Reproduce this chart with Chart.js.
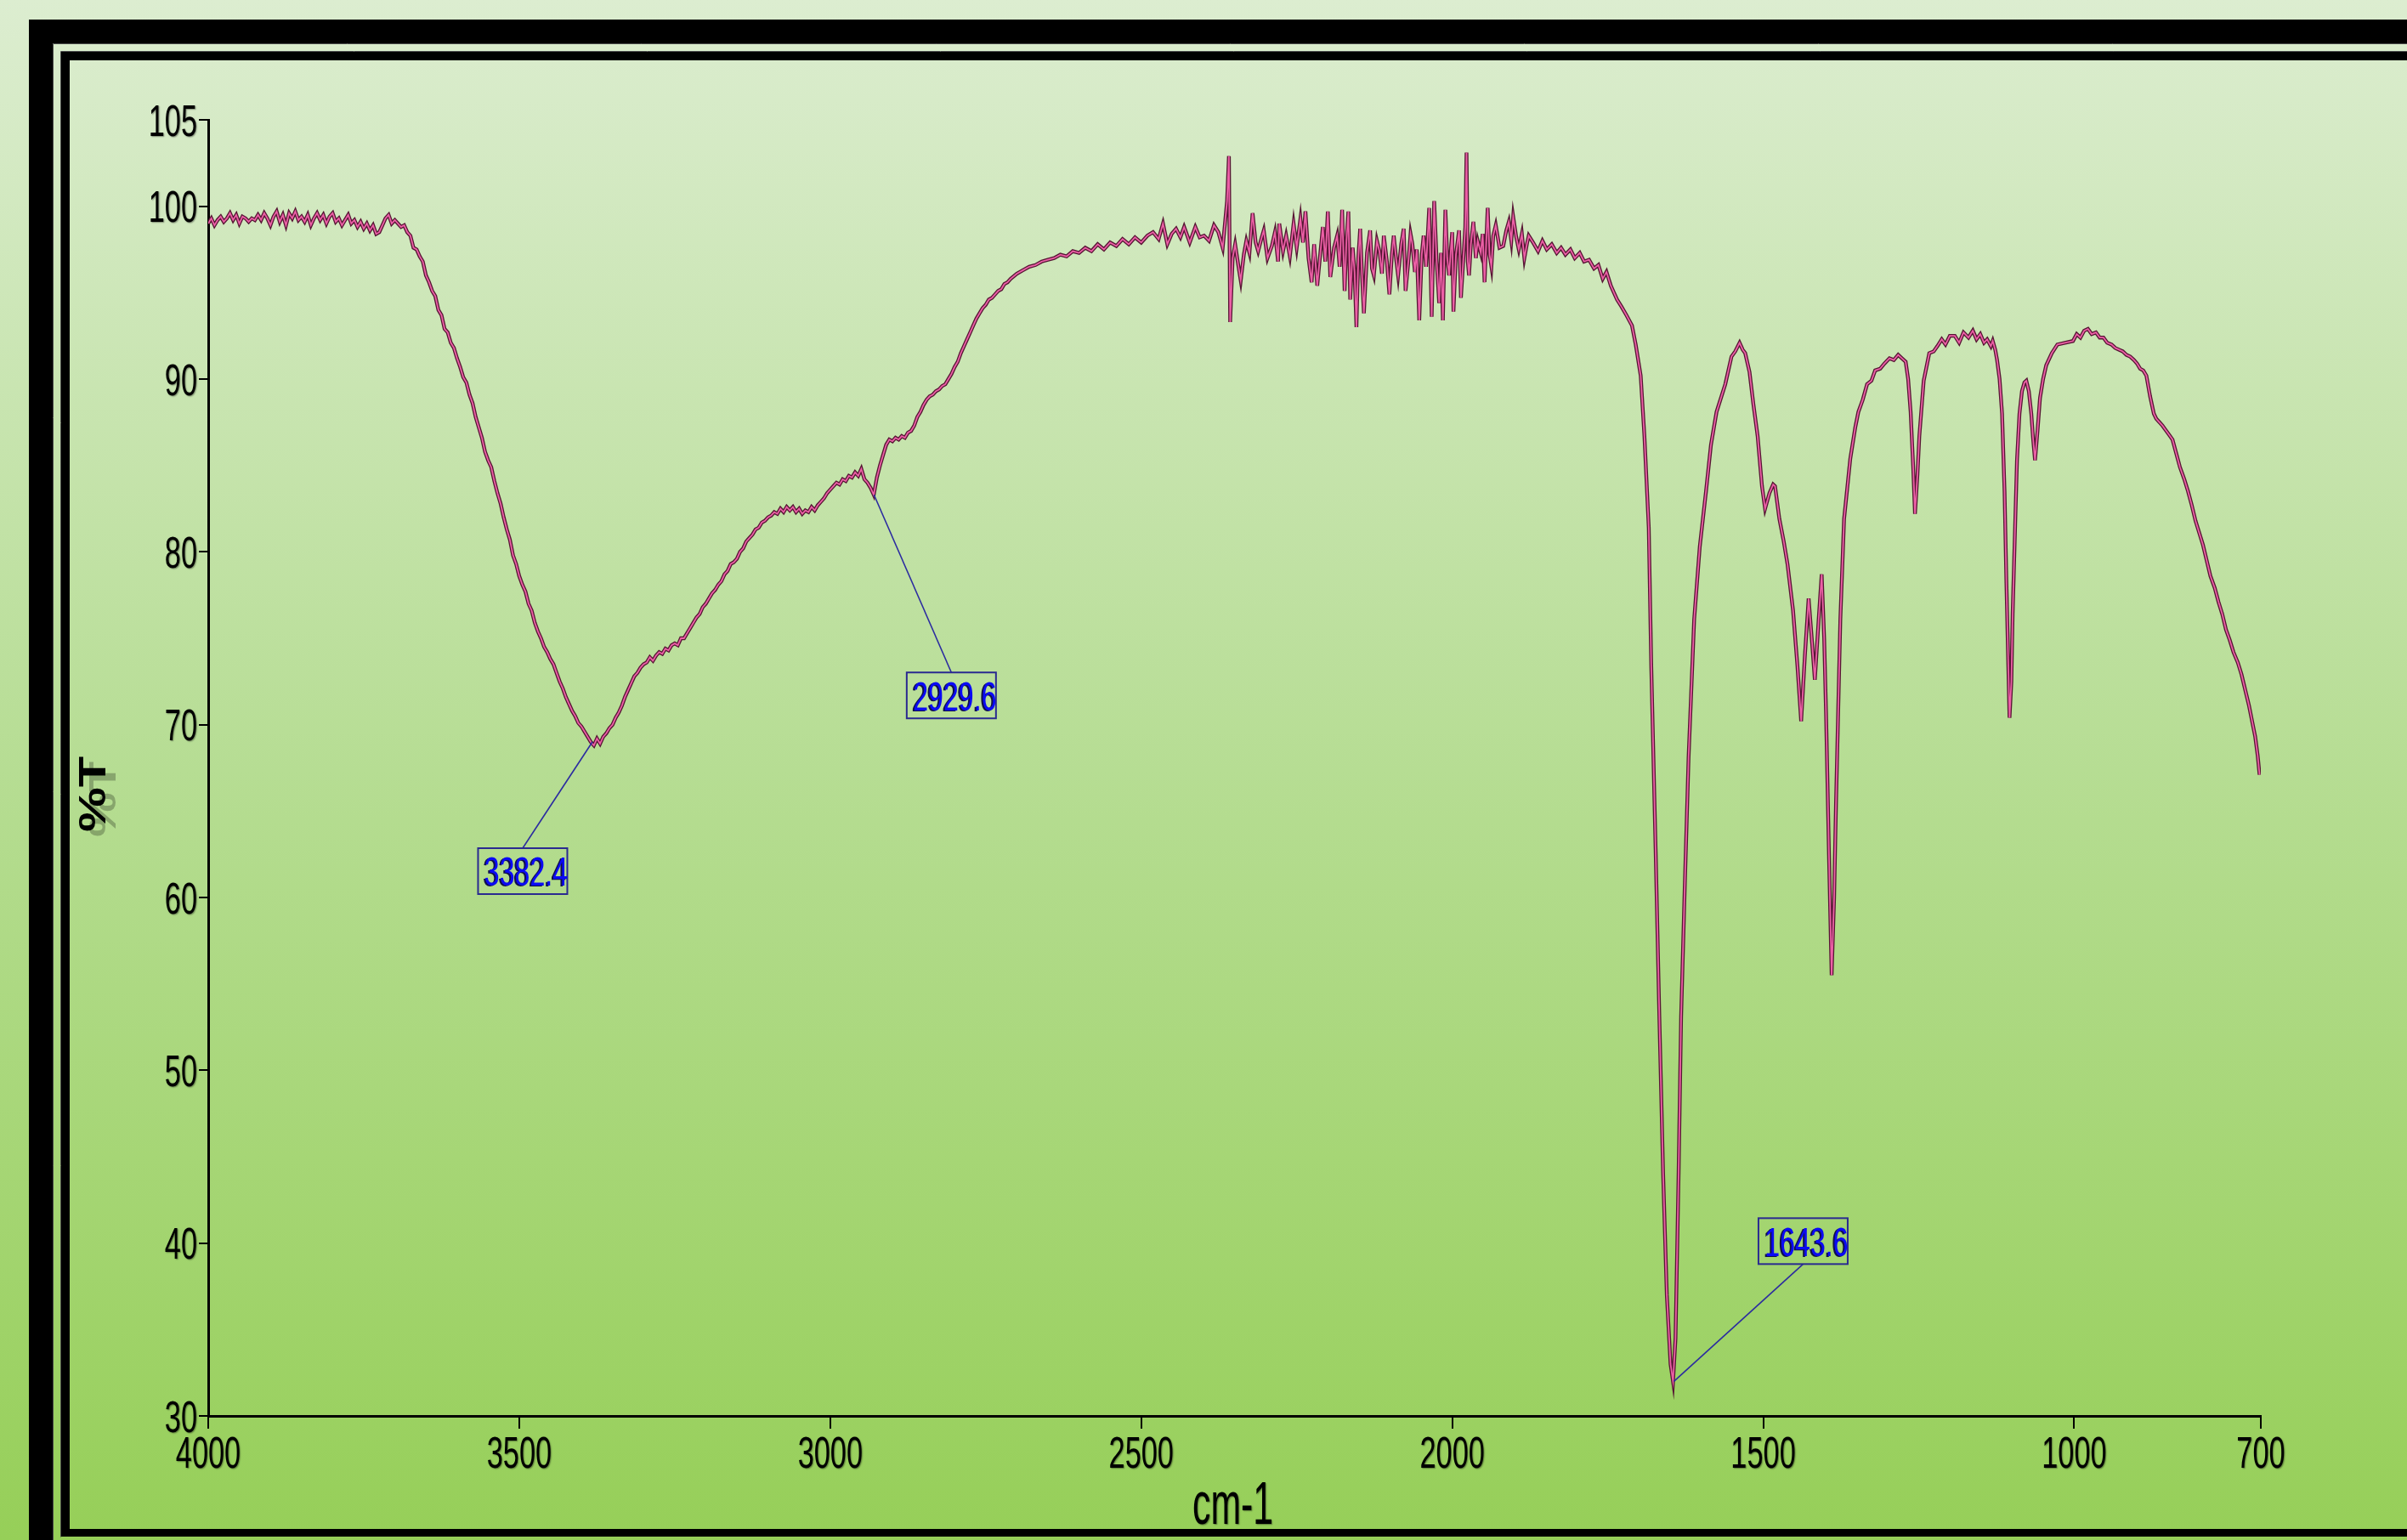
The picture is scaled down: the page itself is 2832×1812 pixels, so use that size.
<!DOCTYPE html>
<html>
<head>
<meta charset="utf-8">
<script src="https://cdn.jsdelivr.net/npm/chart.js@4.4.1/dist/chart.umd.min.js"></script>
<style>
  html, body { margin: 0; padding: 0; background: #c0e0a0; }
  #wrap { width: 2832px; height: 1812px; position: relative; }
  canvas { display: block; }
</style>
</head>
<body>
<div id="wrap"><canvas id="c" width="2832" height="1812"></canvas></div>
<script>
// ---------------- DATA ----------------
const wavenumbers = [
  // 4000 - 3700
  4000,3995,3990,3985,3980,3975,3970,3965,3960,3955,
  3950,3945,3940,3935,3930,3925,3920,3915,3910,3905,
  3900,3895,3890,3885,3880,3875,3870,3865,3860,3855,
  3850,3845,3840,3835,3830,3825,3820,3815,3810,3805,
  3800,3795,3790,3785,3780,3775,3770,3765,3760,3755,
  3750,3745,3740,3735,3730,3725,3720,3715,3710,3705,
  3700,
  // 3695 - 2710
  3695,3690,3685,3680,3675,3670,3665,3660,3655,3650,
  3645,3640,3635,3630,3625,3620,3615,3610,3605,3600,
  3595,3590,3585,3580,3575,3570,3565,3560,3555,3550,
  3545,3540,3535,3530,3525,3520,3515,3510,3505,3500,
  3495,3490,3485,3480,3475,3470,3465,3460,3455,3450,
  3445,3440,3435,3430,3425,3420,3415,3410,3405,3400,
  3395,3390,3385,3380,3375,3370,3365,3360,3355,3350,
  3345,3340,3335,3330,3325,3320,3315,3310,3305,3300,
  3295,3290,3285,3280,3275,3270,3265,3260,3255,3250,
  3245,3240,3235,3230,3225,3220,3215,3210,3205,3200,
  3195,3190,3185,3180,3175,3170,3165,3160,3155,3150,
  3145,3140,3135,3130,3125,3120,3115,3110,3105,3100,
  3095,3090,3085,3080,3075,3070,3065,3060,3055,3050,
  3045,3040,3035,3030,3025,3020,3015,3010,3005,3000,
  2995,2990,2985,2980,2975,2970,2965,2960,2955,2950,
  2945,2940,2935,2930,2925,2920,2915,2910,2905,2900,
  2895,2890,2885,2880,2875,2870,2865,2860,2855,2850,
  2845,2840,2835,2830,2825,2820,2815,2810,2805,2800,
  2795,2790,2785,2780,2775,2770,2765,2760,2755,2750,
  2745,2740,2735,2730,2725,2720,2715,2710,
  // 2700 - 2490
  2700,2690,2680,2670,2660,2650,2640,2630,2620,2610,
  2600,2590,2580,2570,2560,2550,2540,2530,2520,2510,
  2500,2490,
  // noisy region 2481 - 1877
  2481,2472,2465,2458,2451,2444,2437,2431,2422,2413,
  2406,2399,2391,2383,2376,2369,2362,2359,2357,2353,
  2349,2344,2340,2335,2331,2326,2321,2316,2312,2307,
  2303,2297,2290,2285,2280,2278,2272,2267,2261,2255,
  2250,2244,2240,2236,2231,2226,2222,2217,2212,2208,
  2204,2200,2196,2190,2185,2181,2177,2173,2170,2167,
  2164,2160,2157,2154,2151,2148,2145,2142,2137,2132,
  2129,2126,2121,2117,2113,2110,2105,2101,2097,2094,
  2090,2087,2082,2078,2075,2070,2067,2064,2060,2057,
  2053,2049,2046,2042,2037,2033,2029,2025,2021,2018,
  2015,2011,2008,2005,2002,2000,1998,1994,1989,1986,
  1982,1979,1977,1975,1973,1970,1966,1962,1959,1954,
  1951,1948,1943,1940,1937,1934,1930,1924,1918,1913,
  1909,1905,1902,1897,1893,1888,1884,1880,1877,
  // 1870 - 702
  1870,1862,1855,1848,1840,1832,1825,1818,1810,1803,
  1795,1788,1780,1772,1765,1758,1752,1745,1740,1735,
  1728,1720,1711,1705,1697,1691,1684,1680,1673,1667,
  1661,1655,1649,1645,1641,1636,1632,1626,1620,1611,
  1602,1592,1584,1575,1561,1551,1545,1538,1533,1529,
  1522,1516,1509,1502,1497,1490,1484,1481,1474,1467,
  1461,1452,1445,1439,1433,1427,1422,1417,1411,1406,
  1402,1399,1394,1390,1386,1383,1376,1370,1360,1352,
  1347,1340,1333,1326,1320,1312,1305,1297,1290,1283,
  1277,1271,1267,1263,1259,1256,1252,1249,1242,1233,
  1226,1220,1213,1207,1200,1192,1185,1178,1170,1163,
  1157,1151,1145,1140,1134,1131,1127,1124,1120,1116,
  1112,1109,1106,1104,1101,1099,1095,1092,1088,1084,
  1080,1077,1073,1069,1066,1063,1059,1055,1050,1045,
  1036,1027,1015,1002,996,990,984,978,972,965,
  959,953,947,940,934,928,922,916,910,904,
  899,894,889,884,878,872,868,863,858,854,
  848,842,836,830,823,817,811,805,799,793,
  787,781,774,768,762,756,750,744,737,731,
  725,719,714,709,705,702
];

const transmittance = [
  // 4000 - 3700
  99.0,99.3,98.9,99.2,99.4,99.1,99.3,99.6,99.2,99.5,
  99.0,99.4,99.3,99.1,99.3,99.2,99.5,99.2,99.6,99.3,
  98.9,99.4,99.7,99.1,99.5,98.9,99.6,99.3,99.7,99.2,
  99.4,99.1,99.5,98.9,99.3,99.6,99.2,99.5,99.0,99.4,
  99.6,99.1,99.3,98.9,99.2,99.5,99.0,99.2,98.8,99.1,
  98.7,99.0,98.6,98.9,98.4,98.5,98.9,99.3,99.5,99.0,
  99.2,
  // 3695 - 2710
  99.0,98.8,98.9,98.5,98.3,97.6,97.5,97.1,96.8,96.0,
  95.6,95.1,94.8,94.0,93.7,92.9,92.7,92.1,91.8,91.2,
  90.7,90.1,89.8,89.1,88.6,87.8,87.2,86.6,85.8,85.3,
  84.9,84.1,83.4,82.8,82.0,81.3,80.7,79.8,79.3,78.6,
  78.1,77.7,77.0,76.6,75.9,75.4,75.0,74.5,74.2,73.8,
  73.5,73.0,72.5,72.1,71.6,71.2,70.8,70.5,70.1,69.9,
  69.6,69.3,69.0,68.8,69.2,68.9,69.3,69.5,69.8,70.0,
  70.4,70.7,71.1,71.6,72.0,72.4,72.8,73.0,73.3,73.5,
  73.6,73.9,73.7,74.0,74.2,74.1,74.4,74.3,74.6,74.7,
  74.6,75.0,75.0,75.3,75.6,75.9,76.2,76.4,76.8,77.0,
  77.3,77.6,77.8,78.1,78.3,78.7,78.9,79.3,79.4,79.6,
  80.0,80.2,80.6,80.8,81.0,81.3,81.4,81.7,81.8,82.0,
  82.1,82.3,82.2,82.5,82.3,82.6,82.4,82.6,82.3,82.5,
  82.2,82.4,82.3,82.6,82.4,82.7,82.9,83.1,83.4,83.6,
  83.8,84.0,83.9,84.2,84.1,84.4,84.3,84.6,84.4,84.8,
  84.2,84.0,83.7,83.3,84.3,85.0,85.6,86.2,86.5,86.4,
  86.6,86.5,86.7,86.6,86.9,87.0,87.3,87.8,88.1,88.5,
  88.8,89.0,89.1,89.3,89.4,89.6,89.7,90.0,90.3,90.7,
  91.0,91.5,91.9,92.3,92.7,93.1,93.5,93.8,94.1,94.3,
  94.6,94.7,94.9,95.1,95.2,95.5,95.6,95.8,
  // 2700 - 2490
  96.1,96.3,96.5,96.6,96.8,96.9,97.0,97.2,97.1,97.4,
  97.3,97.6,97.4,97.8,97.5,97.9,97.7,98.1,97.8,98.2,
  97.9,98.3,
  // noisy region 2481 - 1877
  98.5,98.1,99.0,97.8,98.4,98.7,98.2,98.8,97.9,98.8,
  98.2,98.3,98.0,98.9,98.5,97.6,100.3,102.9,93.3,97.0,
  97.8,96.6,95.7,97.2,98.0,97.3,99.6,97.9,97.4,98.1,
  98.6,97.0,97.7,98.5,96.8,99.0,97.4,98.3,97.1,99.0,
  97.6,99.3,97.9,99.7,97.0,95.6,97.8,95.4,97.3,98.8,
  96.8,99.7,95.9,97.6,98.3,96.5,99.8,95.1,98.0,99.7,
  94.6,97.6,96.2,93.0,97.0,98.7,96.0,93.8,97.3,98.6,
  96.4,96.0,98.0,97.4,96.1,98.3,96.8,94.9,97.2,98.3,
  96.9,96.0,97.8,98.7,95.1,97.0,98.4,97.8,96.2,97.5,
  93.4,97.2,98.3,96.5,99.9,93.6,100.3,96.8,94.4,97.3,
  93.4,99.8,97.0,96.0,97.6,98.5,93.9,97.2,98.6,94.7,
  97.0,98.8,103.1,96.8,96.0,97.8,99.1,97.0,98.0,97.3,
  98.4,95.6,99.9,97.2,96.5,98.3,98.9,97.6,97.7,98.6,
  99.1,98.0,99.4,98.2,97.5,98.4,97.0,97.8,98.3,
  // 1870 - 702
  97.9,97.4,98.0,97.5,97.8,97.3,97.6,97.2,97.5,97.0,
  97.3,96.8,96.9,96.4,96.6,95.8,96.2,95.4,95.0,94.6,
  94.2,93.7,93.1,92.0,90.2,86.7,81.4,73.4,62.8,53.1,
  44.1,37.0,33.0,32.0,34.5,44.1,53.1,60.8,68.1,76.1,
  80.3,83.5,86.2,88.1,89.7,91.3,91.6,92.1,91.7,91.5,
  90.4,88.6,86.7,83.8,82.5,83.4,83.9,83.8,81.9,80.6,
  79.3,76.6,73.4,70.2,74.0,77.3,75.0,72.6,76.0,78.7,
  75.0,70.7,62.0,55.5,60.0,65.4,76.1,81.9,85.4,87.2,
  88.1,88.8,89.7,89.9,90.5,90.6,90.9,91.2,91.1,91.4,
  91.2,91.0,90.0,88.1,85.0,82.2,84.5,86.7,89.9,91.5,
  91.6,91.9,92.3,92.0,92.5,92.5,92.1,92.7,92.4,92.8,
  92.3,92.6,92.1,92.3,91.9,92.2,91.7,91.1,90.0,88.0,
  83.5,78.2,73.5,70.4,72.5,76.4,81.5,85.3,88.0,89.3,
  89.8,89.9,89.3,88.0,86.5,85.3,87.0,88.9,90.0,90.8,
  91.5,92.0,92.1,92.2,92.6,92.4,92.8,92.9,92.6,92.7,
  92.4,92.4,92.1,92.0,91.8,91.7,91.6,91.4,91.3,91.1,
  90.9,90.6,90.5,90.2,89.0,88.0,87.7,87.5,87.3,87.1,
  86.8,86.5,85.7,84.9,84.2,83.5,82.7,81.8,81.1,80.4,
  79.5,78.6,77.9,77.1,76.4,75.5,74.9,74.2,73.6,72.9,
  72.0,71.1,70.2,69.3,68.2,67.1
];

const xTickValues = [4000, 3500, 3000, 2500, 2000, 1500, 1000, 700];
const yTickValues = [30, 40, 50, 60, 70, 80, 90, 100, 105];

const peakPositions = [3382.4, 2929.6, 1643.6];
const peakValues = [69.0, 83.3, 32.0];
const peakTexts = ['3382.4', '2929.6', '1643.6'];

const xTitle = 'cm-1';
const yTitle = '%T';

// ---------------- BUILD ----------------
const n = Math.min(wavenumbers.length, transmittance.length);
const points = [];
for (let i = 0; i < n; i++) points.push({ x: wavenumbers[i], y: transmittance[i] });

const SANS = "'Liberation Sans', Arial, sans-serif";

// draw text compressed / stretched along its reading direction
function drawText(ctx, text, x, y, sx, align, rot) {
  ctx.save();
  ctx.translate(x, y);
  if (rot) ctx.rotate(rot);
  ctx.scale(sx, 1);
  ctx.textAlign = align;
  ctx.textBaseline = 'alphabetic';
  ctx.fillText(text, 0, 0);
  ctx.restore();
}

const backgroundPlugin = {
  id: 'bgFrame',
  beforeDraw(chart) {
    const { ctx, width, height } = chart;
    ctx.save();
    const g = ctx.createLinearGradient(0, 0, 0, height);
    g.addColorStop(0, '#dcedd0');
    g.addColorStop(0.5, '#b6dd93');
    g.addColorStop(1, '#96cf58');
    ctx.fillStyle = g;
    ctx.fillRect(0, 0, width, height);
    ctx.fillStyle = '#000';
    ctx.fillRect(34, 23, 28, height);
    ctx.fillRect(34, 23, width, 28);
    ctx.fillRect(72, 61, 10, 1747);
    ctx.fillRect(72, 61, width, 10);
    ctx.fillRect(72, 1799, width, 9);
    ctx.strokeStyle = '#4a4a4a';
    ctx.lineWidth = 1;
    ctx.beginPath();
    ctx.moveTo(62.5, height); ctx.lineTo(62.5, 51.5); ctx.lineTo(width, 51.5);
    ctx.moveTo(71.5, 1808.5); ctx.lineTo(71.5, 60.5); ctx.lineTo(width, 60.5);
    ctx.stroke();
    ctx.restore();
  }
};

// axis tick labels and axis titles, placed through the chart's own scales
const axisTextPlugin = {
  id: 'axisText',
  afterDraw(chart, args, o) {
    const { ctx } = chart;
    const xs = chart.scales.x, ys = chart.scales.y;
    ctx.save();
    ctx.fillStyle = '#000';
    ctx.shadowColor = 'rgba(0,0,0,0.4)';
    ctx.shadowBlur = 1.5;
    ctx.shadowOffsetX = 1;
    ctx.shadowOffsetY = 1;
    ctx.font = o.tickSize + 'px ' + SANS;
    ys.ticks.forEach(t => {
      const py = ys.getPixelForValue(t.value);
      drawText(ctx, String(t.value), ys.right - o.yLabelGap, py + o.tickSize * 0.357, o.tickScale, 'right');
    });
    xs.ticks.forEach(t => {
      const px = xs.getPixelForValue(t.value);
      drawText(ctx, String(t.value), px, xs.top + o.xLabelDrop, o.tickScale, 'center');
    });
    // x title
    ctx.font = o.xTitleSize + 'px ' + SANS;
    drawText(ctx, xTitle, (chart.chartArea.left + chart.chartArea.right) / 2 - 2, xs.top + o.xTitleDrop, o.xTitleScale, 'center');
    // y title (rotated, reading bottom to top, with a faint ghost like the reference)
    ctx.shadowColor = 'rgba(0,0,0,0)';
    ctx.font = 'bold ' + o.yTitleSize + 'px ' + SANS;
    const cy = (chart.chartArea.top + chart.chartArea.bottom) / 2 + o.yTitleShift;
    const cap = o.yTitleSize * 0.716;
    ctx.fillStyle = 'rgba(0,0,0,0.25)';
    drawText(ctx, yTitle, o.yTitleX + cap + 12, cy + 6, o.yTitleScale, 'center', -Math.PI / 2);
    ctx.fillStyle = '#000';
    drawText(ctx, yTitle, o.yTitleX + cap, cy, o.yTitleScale, 'center', -Math.PI / 2);
    ctx.restore();
  }
};

const peakLabelPlugin = {
  id: 'peakLabels',
  afterDatasetsDraw(chart, args, opts) {
    const { ctx } = chart;
    const xs = chart.scales.x, ys = chart.scales.y;
    ctx.save();
    ctx.font = opts.fontSize + 'px ' + SANS;
    for (let i = 0; i < peakPositions.length; i++) {
      const px = xs.getPixelForValue(peakPositions[i]);
      const py = ys.getPixelForValue(peakValues[i]);
      const [dx, dy] = opts.offsets[i];
      const cx = px + dx, cy = py + dy;
      const bw = opts.boxWidth, bh = opts.boxHeight;
      const ey = dy > 0 ? cy - bh / 2 : cy + bh / 2;
      ctx.strokeStyle = opts.lineColor;
      ctx.lineWidth = 1.6;
      ctx.beginPath();
      ctx.moveTo(px, py);
      ctx.lineTo(cx, ey);
      ctx.stroke();
      ctx.strokeStyle = opts.boxColor;
      ctx.lineWidth = 2;
      ctx.strokeRect(cx - bw / 2, cy - bh / 2, bw, bh);
      const base = cy + opts.fontSize * 0.36;
      ctx.fillStyle = opts.shadowColor;
      drawText(ctx, peakTexts[i], cx + 2, base + 1, opts.textScale, 'center');
      ctx.fillStyle = opts.textColor;
      drawText(ctx, peakTexts[i], cx + 4, base, opts.textScale, 'center');
    }
    ctx.restore();
  }
};

const ctx = document.getElementById('c').getContext('2d');
new Chart(ctx, {
  type: 'line',
  data: {
    datasets: [
      { data: points, borderColor: '#ec5fa6', borderWidth: 1.8, pointRadius: 0, tension: 0, fill: false },
      { data: points, borderColor: '#571634', borderWidth: 4.4, pointRadius: 0, tension: 0, fill: false }
    ]
  },
  options: {
    responsive: false,
    animation: false,
    devicePixelRatio: 1,
    layout: { padding: { left: 0, right: 172, top: 141, bottom: 0 } },
    plugins: {
      legend: { display: false },
      tooltip: { enabled: false },
      peakLabels: {
        offsets: [[-82, 152], [91, 236], [152, -165]],
        boxWidth: 105, boxHeight: 54,
        fontSize: 48, textScale: 0.67,
        textColor: '#0a0af5', shadowColor: '#10104a',
        lineColor: '#2b2ba0', boxColor: '#2a2a90'
      },
      axisText: {
        tickSize: 52, tickScale: 0.66, yLabelGap: 13, xLabelDrop: 61,
        xTitleSize: 70, xTitleScale: 0.61, xTitleDrop: 127,
        yTitleSize: 44, yTitleScale: 1.35, yTitleX: 92, yTitleShift: 31
      }
    },
    scales: {
      x: {
        type: 'linear', reverse: true, min: 700, max: 4000,
        afterBuildTicks: s => { s.ticks = xTickValues.map(v => ({ value: v })); },
        afterFit: s => { s.height = 146; },
        ticks: { display: false, autoSkip: false, maxRotation: 0 },
        grid: { drawOnChartArea: false, drawTicks: true, tickLength: 15, color: '#000', lineWidth: 2 },
        border: { display: true, color: '#000', width: 3 },
        title: { display: false, text: xTitle }
      },
      y: {
        type: 'linear', min: 30, max: 105,
        afterBuildTicks: s => { s.ticks = yTickValues.map(v => ({ value: v })); },
        afterFit: s => { s.width = 245; },
        ticks: { display: false, autoSkip: false },
        grid: { drawOnChartArea: false, drawTicks: true, tickLength: 11, color: '#000', lineWidth: 2 },
        border: { display: true, color: '#000', width: 3 },
        title: { display: false, text: yTitle }
      }
    }
  },
  plugins: [backgroundPlugin, peakLabelPlugin, axisTextPlugin]
});
</script>
</body>
</html>
